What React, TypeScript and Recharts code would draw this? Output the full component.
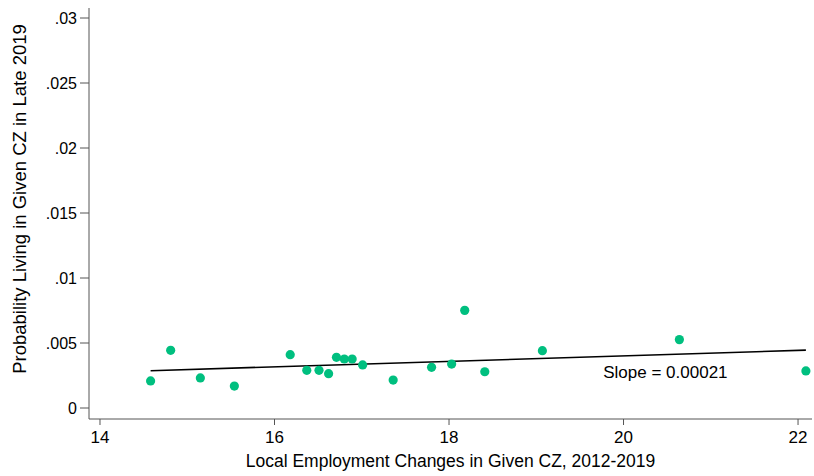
import { ScatterChart, Scatter, XAxis, YAxis, ReferenceDot } from "recharts";

// binned scatter: employment change (x) vs probability of living in CZ (y)
const empChange = [
  14.58, 14.81, 15.15, 15.54, 16.18, 16.37, 16.51, 16.62, 16.71, 16.8,
  16.89, 17.01, 17.36, 17.8, 18.03, 18.18, 18.41, 19.07, 20.64, 22.09,
];
const probLiving = [
  0.00208, 0.00444, 0.00231, 0.00169, 0.0041, 0.0029, 0.0029, 0.00264, 0.0039, 0.00377,
  0.00377, 0.00331, 0.00215, 0.00313, 0.00338, 0.00751, 0.00279, 0.00441, 0.00526, 0.00285,
];

// fitted line endpoints
const fitX = [14.58, 22.09];
const fitY = [0.00287, 0.00445];

const xTicks = [14, 16, 18, 20, 22];
const yTicks = [0, 0.005, 0.01, 0.015, 0.02, 0.025, 0.03];

const slopeText = "Slope = 0.00021";
const slopePos = { x: 20.48, y: 0.00281 };

const points = empChange.map((x, i) => ({ x, y: probLiving[i] }));
const fitLine = fitX.map((x, i) => ({ x, y: fitY[i] }));

const FONT = "'Liberation Sans', Arial, Helvetica, sans-serif";
const AXIS = "#555555";
const DOT = "#00BF7F";

if (typeof document !== "undefined") document.body.style.margin = "0";

function YTitle() {
  return (
    <text
      transform={`translate(26, 199) rotate(-90)`}
      textAnchor="middle"
      fontFamily={FONT}
      fontSize={18.5}
      fill="#000"
    >
      Probability Living in Given CZ in Late 2019
    </text>
  );
}

export default function App() {
  return (
    <div style={{ width: 814, height: 476, background: "#fff" }}>
      <ScatterChart width={814} height={476} margin={{ top: 8, right: 2, left: 0, bottom: 0 }}>
        <XAxis
          type="number"
          dataKey="x"
          domain={[13.874, 22.16]}
          ticks={xTicks}
          allowDataOverflow
          height={57}
          stroke={AXIS}
          tickSize={6}
          tickMargin={6}
          tick={{ fill: "#000", fontSize: 17, fontFamily: FONT }}
          label={{
            value: "Local Employment Changes in Given CZ, 2012-2019",
            position: "insideBottom",
            offset: 9,
            fill: "#000",
            fontSize: 17.5,
            fontFamily: FONT,
          }}
        />
        <YAxis
          type="number"
          dataKey="y"
          domain={[-0.000846, 0.03077]}
          ticks={yTicks}
          allowDataOverflow
          width={89}
          stroke={AXIS}
          tickSize={9}
          tickMargin={3}
          tick={{ fill: "#000", fontSize: 16, fontFamily: FONT }}
          tickFormatter={(v: number) => (v === 0 ? "0" : String(v).replace(/^0/, ""))}
          label={<YTitle />}
        />
        <Scatter
          data={fitLine}
          line={{ stroke: "#000", strokeWidth: 1.6 }}
          shape={() => <g />}
          isAnimationActive={false}
        />
        <Scatter
          data={points}
          fill={DOT}
          shape={(p: any) => <circle cx={p.cx} cy={p.cy} r={4.6} fill={DOT} />}
          isAnimationActive={false}
        />
        <ReferenceDot
          x={slopePos.x}
          y={slopePos.y}
          r={0}
          stroke="none"
          fill="none"
          label={{ value: slopeText, position: "center", fill: "#000", fontSize: 17, fontFamily: FONT }}
        />
      </ScatterChart>
    </div>
  );
}
